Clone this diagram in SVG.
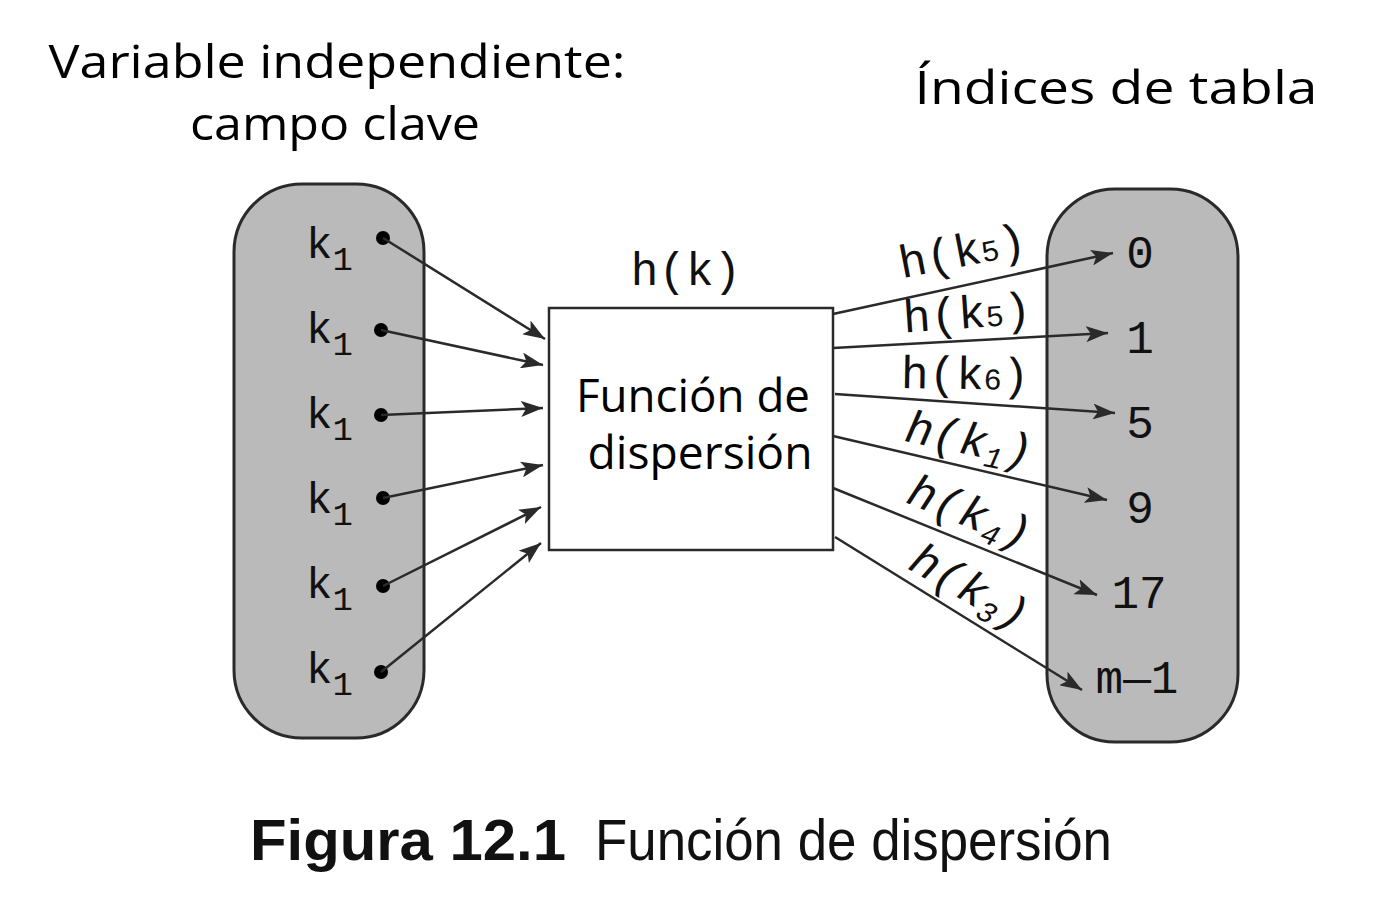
<svg xmlns="http://www.w3.org/2000/svg" width="1378" height="900" viewBox="0 0 1378 900">
<defs>
<style>
.pill{fill:#bababa;stroke:#2a2a2a;stroke-width:3}
.box{fill:#fff;stroke:#2a2a2a;stroke-width:2.5}
.conn{stroke:#2a2a2a;stroke-width:2.5;fill:none;marker-end:url(#ah)}
.dot{fill:#000}
.title{font-family:"Open Sans","DejaVu Sans",sans-serif;font-size:46px;fill:#000}
.mono{font-family:"Liberation Mono","Courier New",monospace;fill:#111}
.cap{font-family:"Liberation Sans Narrow","Liberation Sans",Arial,sans-serif;font-size:58px;fill:#111}
</style>
<marker id="ah" viewBox="0 0 22 16" refX="22" refY="8" markerWidth="22" markerHeight="16" markerUnits="userSpaceOnUse" orient="auto">
<path d="M0,0 L22,8 L0,16 L5,8 Z" fill="#2a2a2a"/>
</marker>
</defs>
<rect width="1378" height="900" fill="#fff"/>

<g id="title-left">
<text class="title" x="337" y="78" text-anchor="middle" textLength="577" lengthAdjust="spacingAndGlyphs">Variable independiente:</text>
<text class="title" x="335" y="140" text-anchor="middle" textLength="290" lengthAdjust="spacingAndGlyphs">campo clave</text>
</g>
<g id="title-right">
<text class="title" x="1116" y="104" text-anchor="middle" textLength="403" lengthAdjust="spacingAndGlyphs">Índices de tabla</text>
</g>

<g id="keys">
<rect class="pill" x="234" y="184" width="190" height="554" rx="68" ry="68"/>
<g class="mono" font-size="44">
<text x="306" y="258">k<tspan font-size="34" dy="12">1</tspan></text>
<text x="306" y="343">k<tspan font-size="34" dy="12">1</tspan></text>
<text x="306" y="428">k<tspan font-size="34" dy="12">1</tspan></text>
<text x="306" y="513">k<tspan font-size="34" dy="12">1</tspan></text>
<text x="306" y="598">k<tspan font-size="34" dy="12">1</tspan></text>
<text x="306" y="683">k<tspan font-size="34" dy="12">1</tspan></text>
</g>
<circle class="dot" cx="383" cy="238" r="7"/>
<circle class="dot" cx="381" cy="330" r="7"/>
<circle class="dot" cx="381" cy="415" r="7"/>
<circle class="dot" cx="383" cy="498" r="7"/>
<circle class="dot" cx="383" cy="586" r="7"/>
<circle class="dot" cx="381" cy="672" r="7"/>
</g>

<g id="indices">
<rect class="pill" x="1047" y="189" width="191" height="553" rx="68" ry="68"/>
<g class="mono" font-size="46" text-anchor="middle">
<text x="1140" y="268">0</text>
<text x="1140" y="353">1</text>
<text x="1140" y="438">5</text>
<text x="1140" y="523">9</text>
<text x="1139" y="608">17</text>
<text x="1137" y="693">m—1</text>
</g>
</g>

<g id="hash-function">
<rect class="box" x="549" y="308" width="284" height="242"/>
<text class="mono" font-size="46" x="686" y="285" text-anchor="middle">h(k)</text>
<text class="title" font-size="40" x="693" y="412" text-anchor="middle" textLength="234" lengthAdjust="spacingAndGlyphs">Función de</text>
<text class="title" font-size="40" x="700" y="469" text-anchor="middle" textLength="225" lengthAdjust="spacingAndGlyphs">dispersión</text>
</g>

<g id="connectors">
<line class="conn" x1="383" y1="238" x2="545" y2="339"/>
<line class="conn" x1="381" y1="330" x2="543" y2="365"/>
<line class="conn" x1="381" y1="415" x2="543" y2="408"/>
<line class="conn" x1="383" y1="498" x2="543" y2="465"/>
<line class="conn" x1="383" y1="586" x2="541" y2="507"/>
<line class="conn" x1="381" y1="672" x2="541" y2="543"/>

<line class="conn" x1="833" y1="314" x2="1113" y2="253"/>
<line class="conn" x1="833" y1="348" x2="1108" y2="333"/>
<line class="conn" x1="835" y1="394" x2="1115" y2="413"/>
<line class="conn" x1="833" y1="436" x2="1107" y2="500"/>
<line class="conn" x1="833" y1="488" x2="1097" y2="595"/>
<line class="conn" x1="835" y1="537" x2="1082" y2="690"/>
</g>

<g id="connector-labels" class="mono" font-size="46" text-anchor="middle">
<text transform="translate(965,266) rotate(-11)">h(k<tspan font-size="30">5</tspan>)</text>
<text transform="translate(968,328) rotate(-4)">h(k<tspan font-size="30">5</tspan>)</text>
<text transform="translate(965,389) rotate(1)">h(k<tspan font-size="30">6</tspan>)</text>
<text transform="translate(966,454) rotate(12)" font-style="italic">h(k<tspan font-size="30" dy="8">1</tspan><tspan dy="-8">)</tspan></text>
<text transform="translate(964,526) rotate(22)" font-style="italic">h(k<tspan font-size="30" dy="8">4</tspan><tspan dy="-8">)</tspan></text>
<text transform="translate(962,600) rotate(30)" font-style="italic">h(k<tspan font-size="30" dy="8">3</tspan><tspan dy="-8">)</tspan></text>
</g>

<g id="caption">
<text class="cap" x="250" y="860" font-weight="bold" textLength="316" lengthAdjust="spacingAndGlyphs">Figura 12.1</text>
<text class="cap" x="595" y="860" textLength="517" lengthAdjust="spacingAndGlyphs">Función de dispersión</text>
</g>
</svg>
